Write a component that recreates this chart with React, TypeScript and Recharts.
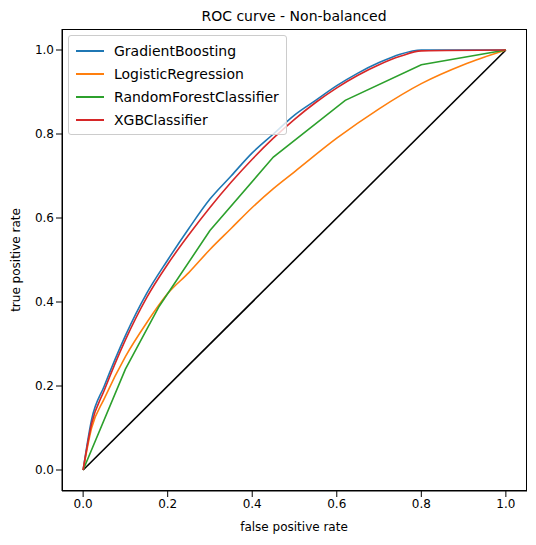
import { LineChart, Line, XAxis, YAxis } from "recharts";

const gbX = [0, 0.02, 0.05, 0.1, 0.15, 0.2, 0.25, 0.3, 0.35, 0.4, 0.45, 0.5, 0.55, 0.6, 0.65, 0.7, 0.75, 0.8, 1];
const gbY = [0, 0.12, 0.2, 0.32, 0.42, 0.5, 0.575, 0.645, 0.70, 0.755, 0.80, 0.845, 0.88, 0.915, 0.945, 0.97, 0.99, 1.0, 1.0];
const xgbX = [0, 0.02, 0.05, 0.1, 0.15, 0.2, 0.25, 0.3, 0.35, 0.4, 0.45, 0.5, 0.55, 0.6, 0.65, 0.7, 0.75, 0.8, 1];
const xgbY = [0, 0.11, 0.19, 0.31, 0.41, 0.49, 0.56, 0.625, 0.685, 0.74, 0.79, 0.835, 0.875, 0.91, 0.94, 0.965, 0.985, 0.998, 1.0];
const lrX = [0, 0.02, 0.05, 0.1, 0.15, 0.2, 0.25, 0.3, 0.35, 0.4, 0.45, 0.5, 0.6, 0.7, 0.8, 0.9, 1];
const lrY = [0, 0.1, 0.17, 0.27, 0.35, 0.42, 0.47, 0.525, 0.575, 0.625, 0.67, 0.71, 0.79, 0.86, 0.92, 0.965, 1.0];
const rfX = [0, 0.1, 0.18, 0.3, 0.45, 0.62, 0.8, 1];
const rfY = [0, 0.24, 0.39, 0.57, 0.745, 0.88, 0.965, 1.0];
const diagX = [0, 1];
const diagY = [0, 1];

const zip = (xs: number[], ys: number[]) => xs.map((x, i) => ({ x, y: ys[i] }));

const series = [
  { name: "GradientBoosting", color: "#1f77b4", data: zip(gbX, gbY), curve: "monotone" },
  { name: "LogisticRegression", color: "#ff7f0e", data: zip(lrX, lrY), curve: "monotone" },
  { name: "RandomForestClassifier", color: "#2ca02c", data: zip(rfX, rfY), curve: "linear" },
  { name: "XGBClassifier", color: "#d62728", data: zip(xgbX, xgbY), curve: "monotone" },
];
const ticks = [0, 0.2, 0.4, 0.6, 0.8, 1.0];
const fmt = (v: number) => v.toFixed(1);

export default function App() {
  return (
    <div style={{ position: "relative", width: 536, height: 545, margin: -8, fontFamily: "DejaVu Sans", background: "#fff" }}>
      <LineChart width={536} height={545} margin={{ top: 29, right: 9, left: 22, bottom: 24 }}>
        <XAxis type="number" dataKey="x" domain={[-0.05, 1.05]} ticks={ticks} tickFormatter={fmt}
          height={30} stroke="#000" tick={{ fill: "#000", fontSize: 12 }} />
        <YAxis type="number" dataKey="y" domain={[-0.05, 1.05]} ticks={ticks} tickFormatter={fmt}
          width={40} stroke="#000" tick={{ fill: "#000", fontSize: 12 }} />
        <Line data={zip(diagX, diagY)} dataKey="y" stroke="#000" strokeWidth={1.6} dot={false} isAnimationActive={false} />
        {series.map((s) => (
          <Line key={s.name} data={s.data} dataKey="y" stroke={s.color} strokeWidth={1.6} dot={false} isAnimationActive={false} type={s.curve as any} />
        ))}
        <text x={294} y={21} textAnchor="middle" fontSize={14} fill="#000">ROC curve - Non-balanced</text>
        <text x={294} y={531} textAnchor="middle" fontSize={12} fill="#000">false positive rate</text>
        <text x={20} y={260} textAnchor="middle" fontSize={12} fill="#000" transform="rotate(-90 20 260)">true positive rate</text>
      </LineChart>
      <div style={{ position: "absolute", left: 62, top: 29, width: 465, height: 462, boxSizing: "border-box", border: "1px solid #000", pointerEvents: "none" }} />
      <div style={{ position: "absolute", left: 68, top: 35, border: "1px solid #ccc", borderRadius: 3, padding: "3px 7px", background: "rgba(255,255,255,0.8)", fontSize: 14 }}>
        {series.map((s) => (
          <div key={s.name} style={{ display: "flex", alignItems: "center", height: 23 }}>
            <span style={{ width: 28, height: 2, background: s.color, marginRight: 10 }} />
            {s.name}
          </div>
        ))}
      </div>
    </div>
  );
}
